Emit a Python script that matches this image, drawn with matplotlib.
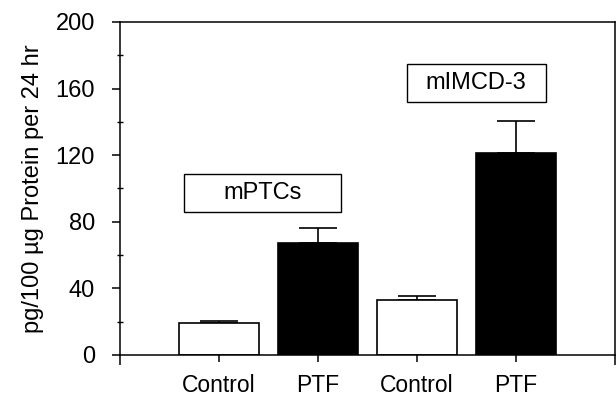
import matplotlib.pyplot as plt
import numpy as np
from matplotlib.patches import Rectangle

plt.rcParams['font.family'] = ['Liberation Sans', 'DejaVu Sans']

groups = ["Control", "PTF", "Control", "PTF"]
means = [19, 67, 33, 121]
errors = [1.4, 9, 2.4, 19.5]
fills = ["white", "black", "white", "black"]
box_labels = ["mPTCs", "mIMCD-3"]
box_x = [0.44, 2.6]
box_y = [97.3, 163.4]
box_w = [1.59, 1.40]

fig = plt.figure(figsize=(6.16, 3.99), dpi=100)
ax = fig.add_axes([0.1948, 0.1103, 0.8032, 0.8347])

pos = np.arange(len(groups))
ax.bar(pos, means, width=0.81, color=fills, edgecolor="black", linewidth=1.2, zorder=2)
for p, m, e in zip(pos, means, errors):
    ax.errorbar(p, m + e / 2, yerr=e / 2, fmt="none", ecolor="black",
                elinewidth=1.2, capsize=13.5, capthick=1.2, zorder=1)

for lbl, x, y, w in zip(box_labels, box_x, box_y, box_w):
    ax.add_patch(Rectangle((x - w / 2, y - 11.4), w, 22.8, facecolor="white",
                           edgecolor="black", linewidth=1.0, zorder=3))
    ax.text(x, y, lbl, ha="center", va="center", fontsize=17, zorder=4)

ax.set_xlim(-1, 4)
ax.set_ylim(0, 200)
ax.set_xticks(pos)
ax.set_xticklabels(groups, fontsize=16.5)
ax.set_xticks([-1, 4], minor=True)
ax.set_yticks(np.arange(0, 201, 40))
ax.set_yticks(np.arange(20, 200, 40), minor=True)
ax.tick_params(axis="y", which="major", direction="out", length=6, width=1.1, labelsize=17, pad=12)
ax.tick_params(axis="y", which="minor", direction="inout", length=4, width=1.0)
ax.tick_params(axis="x", which="major", direction="out", length=5, width=1.1, pad=9)
ax.tick_params(axis="x", which="minor", direction="out", length=7, width=1.1)
ax.set_ylabel("pg/100 µg Protein per 24 hr", fontsize=17, labelpad=8)

for s in ax.spines.values():
    s.set_linewidth(1.1)

fig.savefig("out.png", dpi=100)
